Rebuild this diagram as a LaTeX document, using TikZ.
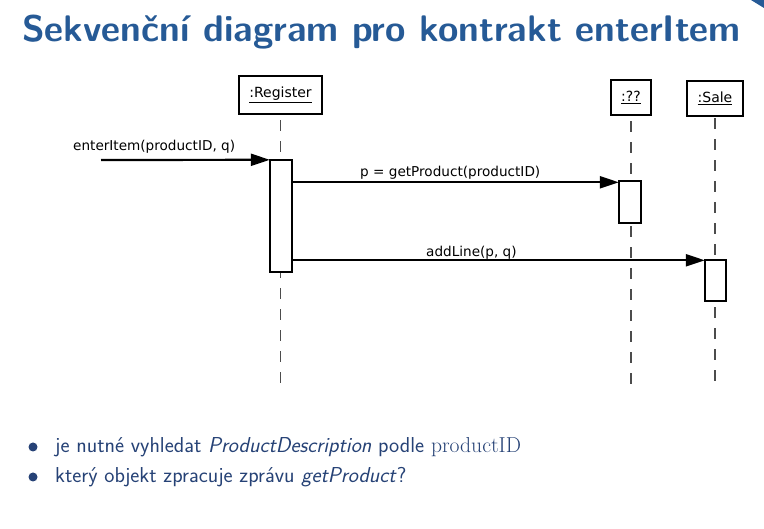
\documentclass[tikz,border=0pt]{standalone}
\usepackage{fontspec}
\newfontfamily\dejavu{DejaVu Sans}
\usetikzlibrary{arrows.meta}
\definecolor{titleblue}{RGB}{38,90,150}
\definecolor{textblue}{RGB}{38,66,118}
\tikzset{
  objbox/.style={draw=black, line width=2.2pt, fill=white, inner sep=0pt,
    font=\dejavu\fontsize{14}{16}\selectfont},
  actbox/.style={draw=black, line width=2.2pt, fill=white},
  lifeline/.style={draw=black!70, line width=1.5pt, dash pattern=on 10.5pt off 10.5pt},
  msg/.style={line width=2.2pt, -{Triangle[length=19pt,width=12pt]}},
  msglabel/.style={anchor=base west, inner sep=0pt, font=\dejavu\fontsize{13.6}{16}\selectfont},
  bullettext/.style={anchor=base west, inner sep=0pt, text=textblue,
    font=\sffamily\fontsize{21.6}{26}\selectfont},
  bulletdot/.style={circle, fill=textblue, inner sep=0pt, minimum size=9pt},
}
\begin{document}
\begin{tikzpicture}[x=1pt, y=-1pt]
\useasboundingbox (0,0) rectangle (764,529);
\fill[white] (0,0) rectangle (764,529);
% corner ornament
\fill[titleblue] (751,0) -- (764,0) -- (764,8) -- cycle;

% title
\node[anchor=base west, inner sep=0pt, text=titleblue,
  font=\sffamily\bfseries\fontsize{37}{44}\selectfont] (title) at (22,42)
  {Sekvenční diagram pro kontrakt enterItem};

% participants
\node[objbox, minimum width=83pt, minimum height=38pt] (reg) at (280.5,95) {\underline{:Register}};
\node[objbox, minimum width=40pt, minimum height=35pt] (unk) at (631,97.5) {\underline{:??}};
\node[objbox, minimum width=56pt, minimum height=35pt] (sale) at (715,98.5) {\underline{:Sale}};

% lifeline ends
\coordinate (regEnd) at (reg.south |- 0,383);
\coordinate (unkEnd) at (unk.south |- 0,384);
\coordinate (saleEnd) at (sale.south |- 0,381);
\draw[lifeline] ([yshift=-5pt]reg.south) -- (regEnd);
\draw[lifeline] ([yshift=-5pt]unk.south) -- (unkEnd);
\draw[lifeline] ([yshift=-1pt]sale.south) -- (saleEnd);

% activations
\draw[actbox] (270,160) rectangle (292,272);
\node[inner sep=0pt, minimum width=22pt, minimum height=112pt] (actR) at (281,216) {};
\draw[actbox] (619,181) rectangle (641,223);
\node[inner sep=0pt, minimum width=22pt, minimum height=42pt] (actQ) at (630,202) {};
\draw[actbox] (705,260) rectangle (726,301);
\node[inner sep=0pt, minimum width=21pt, minimum height=41pt] (actS) at (715.5,280.5) {};

% messages
\coordinate (start) at (101,160);
\draw[msg] (start) -- (actR.north west);
\draw[msg] ([yshift=-1.5pt]actR.east |- actQ.north west) -- ([yshift=-1.5pt]actQ.north west);
\draw[msg] ([yshift=-0.5pt]actR.east |- actS.north west) -- ([yshift=-0.5pt]actS.north west);

\node[msglabel] (l1) at (73,151) {enterItem(productID, q)};
\node[msglabel] (l2) at (360,177) {p = getProduct(productID)};
\node[msglabel] (l3) at (426,257) {addLine(p, q)};

% bullet list
\node[bulletdot] (b1) at (33,447) {};
\node[bulletdot] (b2) at (33,477) {};
\node[bullettext] (t1) at (55,453) {je nutné vyhledat \textit{ProductDescription} podle \rmfamily productID};
\node[bullettext] (t2) at (55,483) {který objekt zpracuje zprávu \textit{getProduct}?};
\end{tikzpicture}
\end{document}
